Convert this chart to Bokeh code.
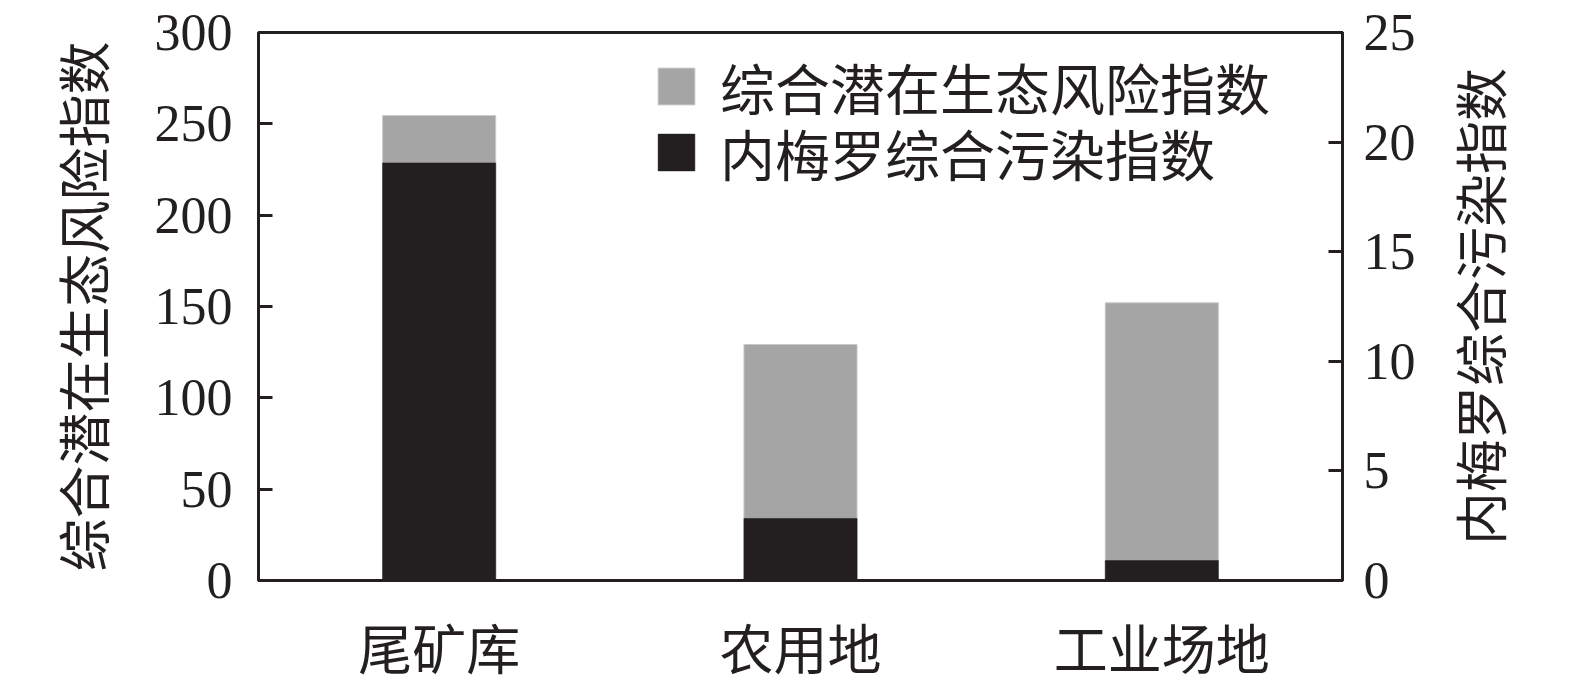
import math
from bokeh.plotting import figure
from bokeh.layouts import row
from bokeh.models import (Range1d, LinearAxis, FixedTicker, Legend, LegendItem,
                          ColumnDataSource, FactorRange, Label)
from bokeh.embed import file_html
from bokeh.resources import INLINE

# ---- data ----
categories = ["尾矿库", "农用地", "工业场地"]
risk_index = [254.5, 129.2, 152.0]          # 综合潜在生态风险指数 (left axis)
nemerow_index = [19.05, 2.83, 0.91]          # 内梅罗综合污染指数 (right axis)
left_ticks = [0, 50, 100, 150, 200, 250, 300]
right_ticks = [0, 5, 10, 15, 20, 25]
left_label = "综合潜在生态风险指数"
right_label = "内梅罗综合污染指数"

INK = "#231f20"
GRAY = "#a6a5a6"
SERIF = "Liberation Serif"
CJK = "Noto Sans CJK SC"

src = ColumnDataSource(dict(cat=categories, risk=risk_index, nem=nemerow_index))

p = figure(width=1430, height=688, x_range=FactorRange(*categories, range_padding=0),
           y_range=Range1d(0, 300), output_backend="svg", toolbar_location=None,
           min_border_left=258, min_border_right=88, min_border_top=32,
           min_border_bottom=108)
p.x_range.factor_padding = 0
p.extra_y_ranges = {"right": Range1d(0, 25)}

p.background_fill_color = "white"
p.border_fill_color = "white"
p.outline_line_color = INK
p.outline_line_width = 3
p.xgrid.visible = False
p.ygrid.visible = False

gray = p.vbar(x="cat", top="risk", width=0.313, source=src, fill_color=GRAY,
              line_color="#c9c9c9", line_width=1)
black = p.vbar(x="cat", top="nem", width=0.313, source=src, fill_color=INK,
               line_color=INK, line_width=0.5, y_range_name="right")

# left axis
ya = p.yaxis[0]
ya.ticker = FixedTicker(ticks=left_ticks)
ya.minor_tick_line_color = None
ya.major_tick_in = 14
ya.major_tick_out = 0
ya.major_tick_line_width = 3
ya.major_tick_line_color = INK
ya.axis_line_width = 3
ya.axis_line_color = INK
ya.major_label_text_font = SERIF
ya.major_label_text_font_size = "52px"
ya.major_label_text_color = INK
ya.major_label_standoff = 26
ya.axis_label = left_label
ya.axis_label_text_font = CJK
ya.axis_label_text_font_size = "53px"
ya.axis_label_text_font_style = "normal"
ya.axis_label_text_color = INK
ya.axis_label_standoff = 32

# right axis
ra = LinearAxis(y_range_name="right", ticker=FixedTicker(ticks=right_ticks))
ra.minor_tick_line_color = None
ra.major_tick_in = 14
ra.major_tick_out = 0
ra.major_tick_line_width = 3
ra.major_tick_line_color = INK
ra.axis_line_width = 3
ra.axis_line_color = INK
ra.major_label_text_font = SERIF
ra.major_label_text_font_size = "52px"
ra.major_label_text_color = INK
ra.major_label_standoff = 21
p.add_layout(ra, "right")

# bottom axis
xa = p.xaxis[0]
xa.major_tick_line_color = None
xa.minor_tick_line_color = None
xa.major_tick_in = 0
xa.major_tick_out = 0
xa.axis_line_width = 3
xa.axis_line_color = INK
xa.major_label_text_font = CJK
xa.major_label_text_font_size = "54px"
xa.major_label_text_color = INK
xa.major_label_standoff = 26

common = dict(orientation="vertical", label_text_font=CJK, label_text_font_size="55px",
              label_text_color=INK, glyph_width=46, glyph_height=46, label_height=46,
              label_standoff=21, spacing=0, padding=0, margin=0,
              border_line_color=None, background_fill_alpha=0)
leg1 = Legend(items=[LegendItem(label=left_label, renderers=[gray])],
              location=(395, 454), **common)
leg2 = Legend(items=[LegendItem(label=right_label, renderers=[black])],
              location=(395, 388), **common)
p.add_layout(leg1, "center")
p.add_layout(leg2, "center")

# narrow strip on the right carrying the right-axis title (reads bottom-to-top)
q = figure(width=145, height=688, x_range=Range1d(0, 1), y_range=Range1d(0, 1),
           output_backend="svg", toolbar_location=None, x_axis_type=None,
           y_axis_type=None, min_border=0)
q.outline_line_color = None
q.xgrid.visible = False
q.ygrid.visible = False
q.add_layout(Label(x=48, y=274, x_units="screen", y_units="screen", text=right_label,
                   angle=math.pi / 2, text_align="center", text_baseline="middle",
                   text_font=CJK, text_font_size="53px", text_color=INK))

layout = row(p, q)
open("out.html", "w").write(file_html(layout, INLINE))
